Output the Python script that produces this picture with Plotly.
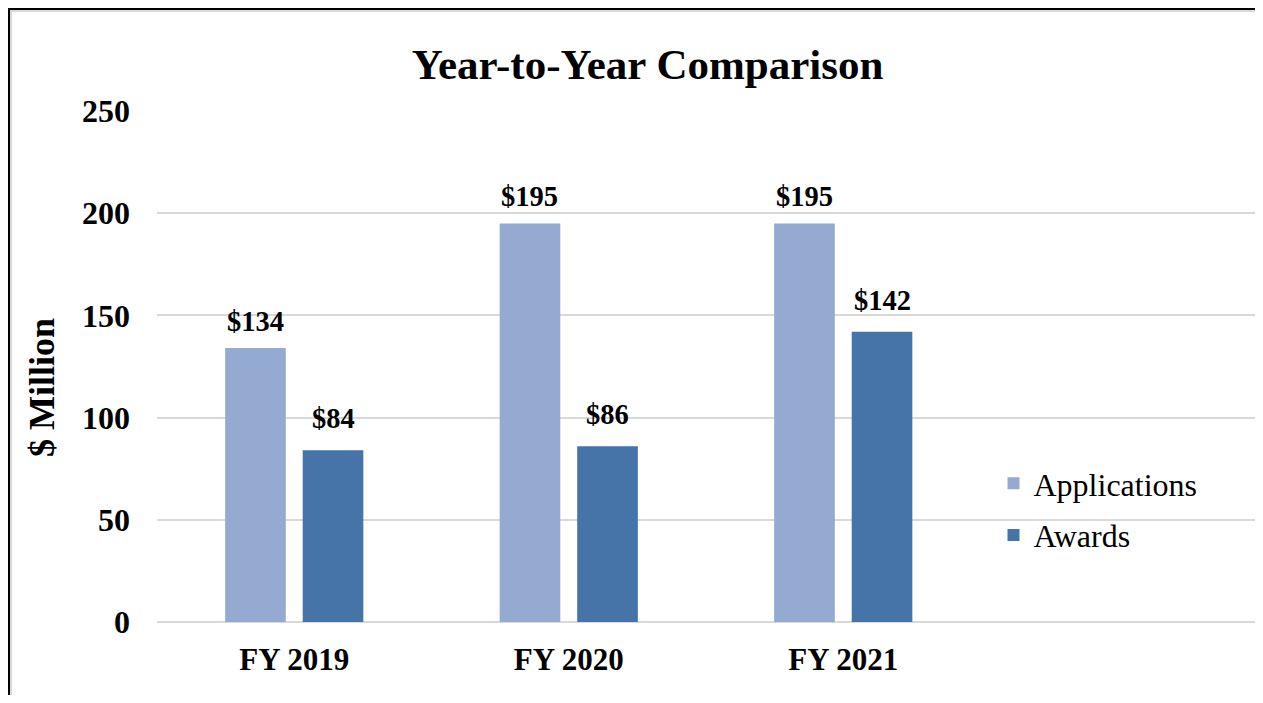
import plotly.graph_objects as go

categories = ["FY 2019", "FY 2020", "FY 2021"]
applications = [134, 195, 195]
awards = [84, 86, 142]
app_labels = ["$134", "$195", "$195"]
award_labels = ["$84", "$86", "$142"]

# page body has an 8px margin: figure coordinates = screen - 8
W, H = 1247, 687
L, R, T, B = 149, 0, 103, 73
PW, PH = W - L - R, H - T - B

def px(x):
    return (x - L) / PW

def py(y):
    return (H - B - y) / PH

FONT = "Liberation Serif, Times New Roman, serif"
APP_COLOR = "#95AAD1"
AWD_COLOR = "#4674A9"

fig = go.Figure()
fig.add_trace(go.Bar(
    name="Applications", x=categories, y=applications,
    marker=dict(color=APP_COLOR, line=dict(width=0)),
    legendgroup="a",
))
fig.add_trace(go.Bar(
    name="Awards", x=categories, y=awards,
    marker=dict(color=AWD_COLOR, line=dict(width=0)),
    legendgroup="b",
))

slot_half = (1 - 0.435) * (PW / 4) / 4
for cat, val, lab in zip(categories, applications, app_labels):
    fig.add_annotation(x=cat, y=val, xref="x", yref="y", text=lab, showarrow=False,
                       xshift=-slot_half, yshift=27, yanchor="middle",
                       font=dict(family=FONT, size=28.5, color="black", weight="bold"))
for cat, val, lab in zip(categories, awards, award_labels):
    fig.add_annotation(x=cat, y=val, xref="x", yref="y", text=lab, showarrow=False,
                       xshift=slot_half, yshift=31.5, yanchor="middle",
                       font=dict(family=FONT, size=28.5, color="black", weight="bold"))

# y-axis title
fig.add_annotation(x=px(34), y=py(380), xref="paper", yref="paper", text="$ Million",
                   showarrow=False, textangle=-90, xanchor="center", yanchor="middle",
                   font=dict(family=FONT, size=36, color="black", weight="bold"))

fig.update_layout(
    width=W, height=H,
    margin=dict(l=L, r=R, t=T, b=B, autoexpand=False),
    paper_bgcolor="white", plot_bgcolor="white",
    barmode="group", bargap=0.435, bargroupgap=0.218,
    font=dict(family=FONT, color="black"),
    title=dict(
        text="Year-to-Year Comparison",
        font=dict(family=FONT, size=43, color="black", weight="bold"),
        x=639.5 / W, xref="container", xanchor="center",
        y=1 - 56 / H, yref="container", yanchor="middle",
    ),
    xaxis=dict(
        range=[-0.5, 3.5], showgrid=False, showline=False, zeroline=False,
        tickfont=dict(family=FONT, size=31, color="black", weight="bold"),
        ticks="", ticklabelstandoff=16, fixedrange=True,
    ),
    yaxis=dict(
        range=[0, 250], dtick=50, showgrid=True, gridcolor="#D9D9D9", gridwidth=2,
        zeroline=True, zerolinecolor="#D9D9D9", zerolinewidth=2, showline=False,
        tickfont=dict(family=FONT, size=32, color="black", weight="bold"),
        ticks="", ticklabelstandoff=26,
    ),
    legend=dict(
        x=px(985.5), y=py(448), xanchor="left", yanchor="top",
        bgcolor="rgba(0,0,0,0)", traceorder="grouped", tracegroupgap=7,
        font=dict(family=FONT, size=32, color="black"),
        itemwidth=30,
    ),
    showlegend=True,
)

# chart frame
fig.add_shape(type="rect", xref="paper", yref="paper",
              x0=px(3), x1=px(1251), y0=py(3), y1=py(694),
              line=dict(color="#D9D9D9", width=2), layer="below")
fig.add_shape(type="line", xref="paper", yref="paper",
              x0=px(0), x1=px(W + 5), y0=py(1), y1=py(1),
              line=dict(color="black", width=2))
fig.add_shape(type="line", xref="paper", yref="paper",
              x0=px(1), x1=px(1), y0=py(0), y1=py(H + 5),
              line=dict(color="black", width=2))

fig.write_html("out.html")
